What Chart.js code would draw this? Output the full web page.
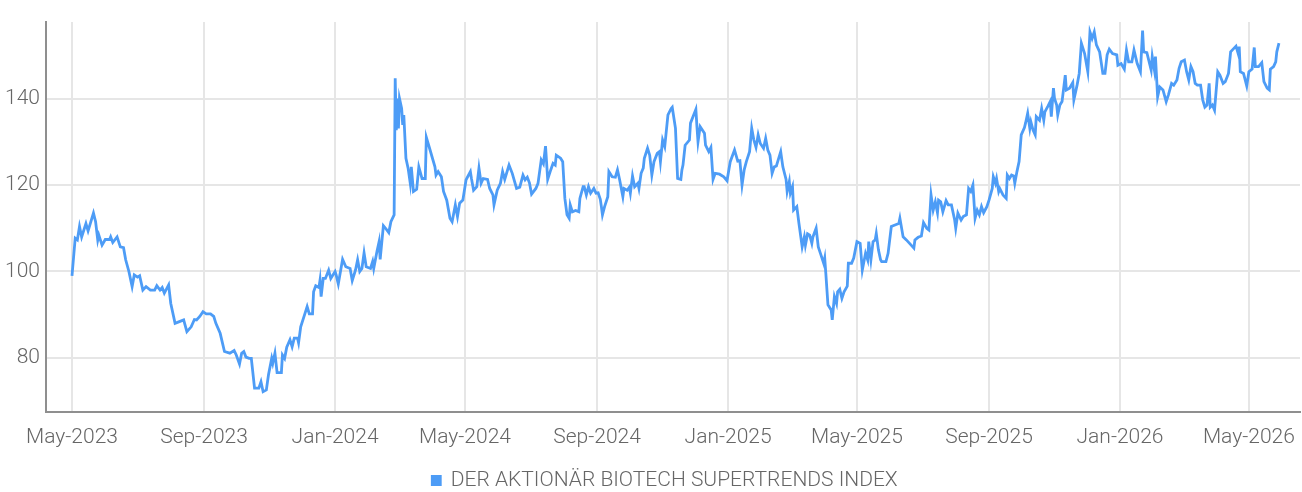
<!DOCTYPE html>
<html>
<head>
<meta charset="utf-8">
<script src="https://cdn.jsdelivr.net/npm/chart.js@4.4.1/dist/chart.umd.min.js"></script>
<style>
  html, body { margin: 0; padding: 0; background: #ffffff; overflow: hidden; }
  #wrap { position: relative; width: 1302px; height: 501px; }
</style>
</head>
<body>
<div id="wrap"><canvas id="c"></canvas></div>
<script>
// ---- DATA ----
const seriesName = 'DER AKTIONÄR BIOTECH SUPERTRENDS INDEX';

// days since 1 May 2023
const days = [
  0,3,5,7,9,13,15,20,22,24,
  25,28,31,35,36,38,42,45,48,50,
  53,56,58,61,63,66,69,73,77,79,
  82,84,86,90,92,96,100,104,107,111,
  114,116,119,122,125,129,132,134,138,142,
  147,151,153,156,158,160,162,165,167,170,
  174,176,178,181,183,186,187,189,191,195,
  196,198,200,203,205,207,210,211,213,217,
  219,221,224,225,227,230,231,232,234,236,
  239,241,245,246,248,252,255,259,261,264,
  266,268,270,272,274,278,280,281,284,286,
  287,290,292,295,297,300,301,302,303,304,
  305,307,308,309,311,313,315,316,318,321,
  323,326,329,330,333,338,339,341,344,346,
  349,352,354,357,359,361,364,367,371,372,
  374,377,379,381,383,387,389,392,393,396,
  399,401,403,407,410,414,417,420,422,424,
  426,428,432,434,437,439,441,443,446,448,
  450,451,455,457,459,461,463,464,466,469,
  472,473,476,477,479,481,483,486,488,490,
  492,493,494,496,499,500,503,506,508,510,
  513,514,517,519,520,522,524,527,528,530,
  532,533,536,538,540,542,545,547,548,550,
  552,555,558,559,562,564,567,568,569,571,
  575,576,581,582,583,585,589,590,593,595,
  597,599,603,607,610,613,617,620,622,624,
  626,628,631,633,635,637,639,641,644,646,
  648,650,652,654,656,660,662,665,666,668,
  669,671,672,675,677,680,682,683,685,687,
  689,690,693,695,697,700,701,702,704,707,
  708,710,712,713,715,717,719,722,723,726,
  728,731,734,736,739,741,742,744,746,748,
  749,751,753,754,758,760,763,767,770,771,
  774,777,780,784,785,788,791,793,796,798,
  800,802,804,806,807,809,811,814,816,819,
  822,823,825,828,830,833,835,837,839,841,
  843,845,847,849,852,854,857,858,860,861,
  863,864,867,870,871,873,875,877,878,880,
  882,884,887,888,890,892,893,895,897,898,
  901,903,905,906,909,911,912,914,915,917,
  918,920,922,925,926,929,932,933,936,938,
  940,943,946,948,950,952,954,957,960,962,
  964,966,969,973,974,977,980,982,984,987,
  989,992,995,997,998,1001,1005,1006,1008,1009,
  1011,1013,1016,1019,1021,1024,1026,1029,1031,1033,
  1036,1038,1040,1042,1044,1046,1048,1051,1053,1055,
  1057,1059,1060,1062,1064,1067,1069,1072,1074,1077,
  1079,1082,1084,1086,1087,1088,1091,1094,1096,1099,
  1101,1102,1105,1108,1110,1113,1115,1116,1119,1121,
  1122,1124
];

const values = [
  99.0,107.7,107.3,110.4,108.0,111.1,109.4,113.5,111.5,107.3,
  108.4,106.1,107.4,107.4,108.0,106.7,108.0,105.7,105.5,102.7,
  100.0,96.5,99.2,98.7,99.0,95.7,96.5,95.7,95.7,96.7,
  95.7,96.3,95.0,96.9,92.6,88.0,88.4,88.8,86.1,87.2,
  88.9,88.8,89.6,90.7,90.2,90.2,89.6,88.0,85.7,81.5,
  81.1,81.7,80.7,78.6,81.1,81.5,80.2,79.9,79.9,73.0,
  73.0,74.5,72.2,72.6,76.1,79.9,78.8,81.1,76.6,76.6,
  80.7,79.9,82.5,84.2,82.6,84.6,84.6,83.5,87.2,90.3,
  91.9,90.2,90.2,95.3,96.7,96.3,98.0,94.2,98.4,98.4,
  100.3,98.4,100.0,99.2,97.1,102.8,101.1,100.7,97.9,100.3,
  102.7,100.0,100.7,104.3,101.1,100.7,102.3,100.7,104.6,106.9,
  102.8,110.6,110.0,109.0,111.5,113.1,144.7,132.7,140.0,133.1,
  140.0,137.7,133.9,136.2,126.2,123.9,120.4,124.2,118.5,119.0,
  124.2,121.5,121.5,131.0,128.5,124.2,122.3,123.1,121.9,118.5,
  116.5,112.3,111.5,115.4,112.7,115.8,116.5,121.2,123.1,121.5,
  118.8,119.6,123.9,120.4,121.5,121.3,119.2,117.7,115.4,118.8,
  120.4,123.1,121.3,124.6,122.7,119.2,119.5,122.3,121.2,121.8,
  120.5,117.9,119.2,120.4,125.8,124.9,129.0,121.3,123.6,125.0,
  124.6,126.9,126.2,125.4,116.9,113.1,112.3,115.4,113.8,114.1,
  113.8,116.9,119.6,119.6,117.7,119.6,118.1,119.2,118.1,118.2,
  116.7,115.0,113.1,115.0,117.3,123.1,121.9,121.8,123.5,121.2,
  117.3,119.2,118.8,119.5,118.1,122.1,119.6,120.4,119.2,122.7,
  123.9,126.2,128.5,126.9,122.3,125.4,127.3,127.7,125.4,130.4,
  128.9,136.2,137.7,138.0,133.1,121.5,121.3,123.5,124.6,129.2,
  130.4,134.3,137.5,133.5,130.0,133.5,132.0,129.2,127.7,128.7,
  121.3,122.7,122.5,121.9,121.0,125.4,128.1,125.5,125.6,120.0,
  123.5,125.4,127.7,133.1,130.4,128.7,131.6,129.6,128.5,130.8,
  128.1,126.9,122.7,124.2,124.4,127.7,124.2,121.3,118.5,120.8,
  118.1,119.6,114.2,115.0,111.1,105.7,108.0,106.1,108.7,108.4,
  106.5,108.0,110.0,105.7,104.2,101.9,103.1,99.6,92.3,91.1,
  88.8,94.2,92.6,95.3,95.9,93.8,95.3,96.6,101.9,101.9,
  103.1,106.9,106.5,100.3,104.2,102.7,106.9,102.7,106.9,107.3,
  108.8,105.0,102.7,102.3,102.3,104.2,110.4,110.8,111.1,112.3,
  108.0,107.3,106.5,105.4,107.3,107.9,108.2,111.3,110.0,109.6,
  117.7,114.2,116.1,113.6,116.5,116.1,113.8,116.4,115.4,115.4,
  111.9,110.0,113.5,111.9,112.7,113.1,119.2,118.5,120.0,112.3,
  114.2,113.1,115.0,113.6,115.0,116.5,119.2,121.9,120.4,121.5,
  118.5,119.2,117.7,116.9,122.3,121.5,122.3,122.1,120.4,123.1,
  125.4,131.6,133.3,134.3,136.6,133.1,134.6,132.7,131.6,135.8,
  135.0,137.7,135.0,136.9,138.3,139.3,135.8,142.4,140.0,138.5,
  136.2,138.5,139.3,145.4,142.0,142.4,143.7,139.7,143.1,145.8,
  152.8,150.4,146.2,155.4,153.9,155.4,152.4,150.8,145.8,145.8,
  150.1,151.4,150.4,150.1,147.7,148.1,146.8,151.2,148.5,148.5,
  151.2,148.1,146.2,155.7,150.8,150.6,146.6,149.7,146.6,149.7,
  140.4,142.7,142.0,139.3,140.8,143.5,143.1,144.3,147.0,148.5,
  148.9,146.2,144.3,147.4,146.2,143.5,143.1,143.1,139.7,138.0,
  138.5,143.5,138.0,138.5,137.3,146.2,145.4,143.5,143.9,145.8,
  150.8,151.6,152.1,150.4,152.0,146.2,145.8,142.9,146.2,146.8,
  151.8,147.4,147.4,148.3,143.9,142.4,142.0,146.8,147.4,148.5,
  150.8,152.8
];

// x-axis ticks (days since 1 May 2023) and their labels
const tickDays = [0, 123, 245, 366, 489, 611, 731, 854, 976, 1096];
const tickLabels = ['May-2023','Sep-2023','Jan-2024','May-2024','Sep-2024','Jan-2025','May-2025','Sep-2025','Jan-2026','May-2026'];
const yTicks = [80, 100, 120, 140];

// ---- STYLE ----
const lineColor = '#4d9cf6';
const textColor = '#666666';
const gridColor = '#e6e6e6';
const axisColor = '#8f8f8f';
const font = { family: 'Roboto', weight: '300', size: 21 };

const points = days.map((d, i) => ({ x: d, y: values[i] }));

// shift the legend so it is centred like the original
const legendShift = {
  id: 'legendShift',
  afterLayout(chart) {
    if (chart.legend) { chart.legend.left += 30; }
  }
};

new Chart(document.getElementById('c'), {
  type: 'line',
  data: {
    datasets: [{
      label: seriesName,
      data: points,
      borderColor: lineColor,
      backgroundColor: lineColor,
      borderWidth: 2.8,
      pointRadius: 0,
      tension: 0,
      fill: false
    }]
  },
  plugins: [legendShift],
  options: {
    responsive: true,
    maintainAspectRatio: false,
    animation: false,
    layout: { padding: { top: 22, right: 2, left: 0, bottom: 0 } },
    scales: {
      x: {
        type: 'linear',
        min: -24.2,
        max: 1143.6,
        afterBuildTicks: s => { s.ticks = tickDays.map(v => ({ value: v })); },
        afterFit: s => { s.height = 48; s.paddingLeft = 0; s.paddingRight = 0; },
        grid: { color: gridColor, lineWidth: 2, drawTicks: false },
        border: { color: axisColor, width: 2 },
        ticks: {
          autoSkip: false, maxRotation: 0, minRotation: 0,
          padding: 13, color: textColor, font: font,
          callback: (v) => { const i = tickDays.indexOf(v); return i >= 0 ? tickLabels[i] : ''; }
        }
      },
      y: {
        min: 67.5,
        max: 157.7,
        afterBuildTicks: s => { s.ticks = yTicks.map(v => ({ value: v })); },
        afterFit: s => { s.width = 46; s.paddingTop = 0; s.paddingBottom = 0; },
        grid: { color: gridColor, lineWidth: 2, drawTicks: false },
        border: { color: axisColor, width: 2 },
        ticks: { padding: 6, color: textColor, font: font }
      }
    },
    plugins: {
      legend: {
        position: 'bottom',
        labels: { boxWidth: 8, boxHeight: 8, color: textColor, font: font, padding: 10 }
      },
      tooltip: { enabled: false }
    }
  }
});
</script>
</body>
</html>
